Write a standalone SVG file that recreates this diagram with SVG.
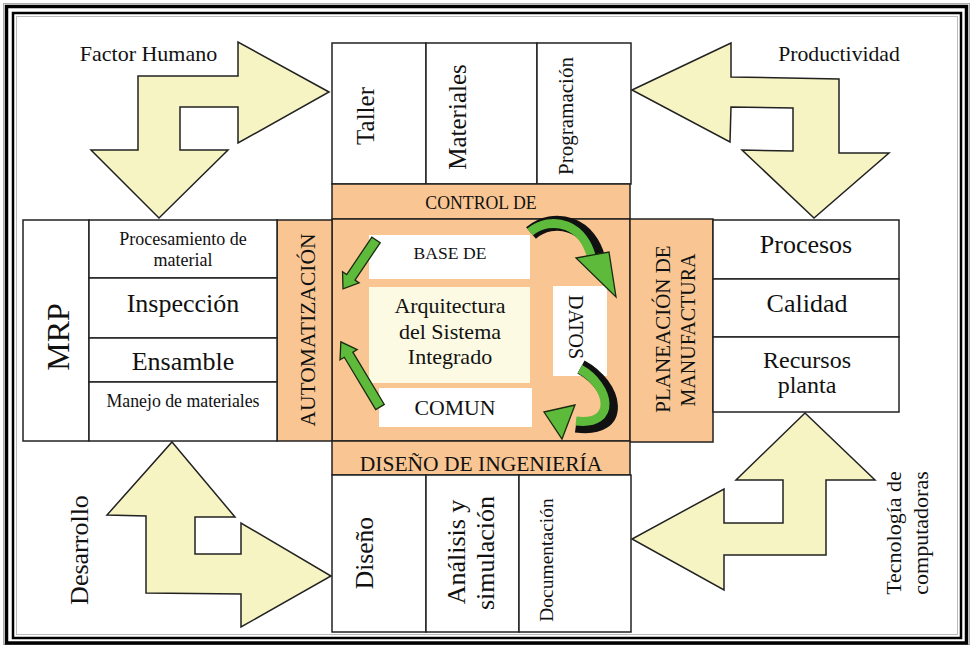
<svg xmlns="http://www.w3.org/2000/svg" width="972" height="648" viewBox="0 0 972 648">
<style>
.t{font-family:"Liberation Serif","Times New Roman",serif;fill:#111;}
.m{text-anchor:middle;}
.box{fill:#fff;stroke:#222;stroke-width:1.5;}
.org{fill:#F9C693;stroke:#222;stroke-width:1.5;}
.ya{fill:#F6F4C2;stroke:#222;stroke-width:1.5;stroke-linejoin:miter;}
.ga{fill:#5DBA3B;stroke:#1b2a10;stroke-width:1.3;stroke-linejoin:miter;}
.gk{fill:none;stroke:#111;stroke-width:15;stroke-linecap:butt;}
.gg{fill:none;stroke:#5DBA3B;stroke-width:9;stroke-linecap:butt;}
</style>
<rect x="0" y="0" width="972" height="648" fill="#fff"/>
<g id="frame" fill="none">
<rect x="3.5" y="3.5" width="966" height="641" stroke="#aaa" stroke-width="1"/>
<rect x="6.5" y="6.5" width="960" height="636.5" stroke="#000" stroke-width="3.5"/>
<rect x="13" y="13" width="948" height="625" stroke="#000" stroke-width="2.5"/>
<rect x="16.5" y="16.5" width="941" height="618" stroke="#bbb" stroke-width="1"/>
</g>

<g id="top-boxes">
<rect class="box" x="332" y="43" width="94" height="141"/>
<rect class="box" x="426" y="43" width="111" height="141"/>
<rect class="box" x="537" y="43" width="94" height="141"/>
<text class="t m" font-size="25" transform="translate(374,116) rotate(-90)">Taller</text>
<text class="t m" font-size="25" transform="translate(466,117) rotate(-90)">Materiales</text>
<text class="t m" font-size="21" transform="translate(573,116) rotate(-90)">Programación</text>
</g>

<g id="control-band">
<rect class="org" x="332" y="184" width="298" height="35"/>
<text class="t m" font-size="17.8" x="481" y="209">CONTROL DE</text>
</g>

<g id="center">
<rect class="org" x="332" y="219" width="298" height="222"/>
</g>

<g id="automatizacion">
<rect class="org" x="277" y="220" width="55" height="221"/>
<text class="t m" font-size="21.5" transform="translate(315,330) rotate(-90)">AUTOMATIZACIÓN</text>
</g>

<g id="planeacion">
<rect class="org" x="630" y="219" width="83" height="223"/>
<text class="t m" font-size="21" transform="translate(670,329) rotate(-90)">PLANEACIÓN DE</text>
<text class="t m" font-size="20" transform="translate(695,330) rotate(-90)">MANUFACTURA</text>
</g>

<g id="diseno-band">
<rect class="org" x="332" y="441" width="298" height="34"/>
<text class="t m" font-size="21.5" x="481" y="471">DISEÑO DE INGENIERÍA</text>
</g>

<g id="bottom-boxes">
<rect class="box" x="332" y="475" width="94" height="157"/>
<rect class="box" x="426" y="475" width="93" height="157"/>
<rect class="box" x="519" y="475" width="112" height="157"/>
<text class="t m" font-size="25.5" transform="translate(373,553) rotate(-90)">Diseño</text>
<text class="t m" font-size="26" transform="translate(465,552) rotate(-90)">Análisis y</text>
<text class="t m" font-size="26" transform="translate(494,553) rotate(-90)">simulación</text>
<text class="t m" font-size="19.5" transform="translate(553,560) rotate(-90)">Documentación</text>
</g>

<g id="left-boxes">
<rect class="box" x="23" y="220" width="66" height="221"/>
<rect class="box" x="89" y="220" width="188" height="58"/>
<rect class="box" x="89" y="278" width="188" height="60"/>
<rect class="box" x="89" y="338" width="188" height="44"/>
<rect class="box" x="89" y="382" width="188" height="59"/>
<text class="t m" font-size="32" transform="translate(69,337) rotate(-90)">MRP</text>
<text class="t m" font-size="18" x="183" y="245">Procesamiento de</text>
<text class="t m" font-size="18" x="183" y="266">material</text>
<text class="t m" font-size="26" x="183" y="312">Inspección</text>
<text class="t m" font-size="26" x="183" y="370">Ensamble</text>
<text class="t m" font-size="17.8" x="183" y="407">Manejo de materiales</text>
</g>

<g id="right-boxes">
<rect class="box" x="713" y="220" width="186" height="59"/>
<rect class="box" x="713" y="279" width="186" height="58"/>
<rect class="box" x="713" y="337" width="186" height="75"/>
<text class="t m" font-size="26" x="806" y="253">Procesos</text>
<text class="t m" font-size="26" x="807" y="312">Calidad</text>
<text class="t m" font-size="24" x="807" y="368">Recursos</text>
<text class="t m" font-size="24" x="807" y="393">planta</text>
</g>

<g id="base-de">
<rect x="369" y="235" width="161" height="44" fill="#fff"/>
<text class="t m" font-size="17.6" x="450" y="259">BASE DE</text>
</g>
<g id="arquitectura">
<rect x="369" y="287" width="161" height="96" fill="#FCFAE3"/>
<text class="t m" font-size="22" x="450" y="313">Arquitectura</text>
<text class="t m" font-size="22" x="450" y="339">del Sistema</text>
<text class="t m" font-size="22" x="450" y="364">Integrado</text>
</g>
<g id="comun">
<rect x="379" y="388" width="153" height="39" fill="#fff"/>
<text class="t m" font-size="21.8" x="455" y="415">COMUN</text>
</g>
<g id="datos">
<rect x="553" y="286" width="54" height="90" fill="#fff"/>
<text class="t m" font-size="20" transform="translate(569,327) rotate(90)">DATOS</text>
</g>

<g id="labels">
<text class="t m" font-size="22" x="148.5" y="61">Factor Humano</text>
<text class="t m" font-size="21.7" x="839" y="61">Productividad</text>
<text class="t m" font-size="26" transform="translate(88,550) rotate(-90)">Desarrollo</text>
<text class="t m" font-size="22" transform="translate(901,533) rotate(-90)">Tecnología de</text>
<text class="t m" font-size="22" transform="translate(928,533) rotate(-90)">computadoras</text>
</g>

<g id="connectors">
<polygon class="ya" points="329,92 238,42 238,76 138,76 138,150 91,150 159,218 228,150 180,150 180,107 238,107 238,143"/>
<polygon class="ya" points="632,90 731,43 731,77 839,79 839,153 889,153 814,218 742,150 793,151 793,108 731,107 730,142"/>
<polygon class="ya" points="172,442 235,517 195,517 195,554 241,554 241,523 331,576 241,627 241,594 146,593 146,516 107,515"/>
<polygon class="ya" points="805,413 875,480 826,480 826,555 724,555 724,590 632,539 724,489 724,523 783,523 783,480 736,480"/>

<polygon class="ga" transform="translate(376,240) rotate(124)" points="0,-5 45,-5 45,-10 59,0 45,10 45,5 0,5"/>
<polygon class="ga" transform="translate(380,407) rotate(-121)" points="0,-5 61,-5 61,-10 76,0 61,10 61,5 0,5"/>

<path class="gk" d="M531,233 C553,214 592,222 599,264"/>
<path class="gg" d="M530,232 C551,215 586,222 593,264"/>
<polygon class="ga" stroke-width="2.5" stroke="#111" points="576,258 609,252 616,297"/>

<path class="gk" d="M581,367 C616,386 626,432 576,425"/>
<path class="gg" d="M580,369 C610,386 618,426 576,421"/>
<polygon class="ga" stroke-width="2.5" stroke="#111" points="544,412 575,405 562,439"/>
</g>
</svg>
